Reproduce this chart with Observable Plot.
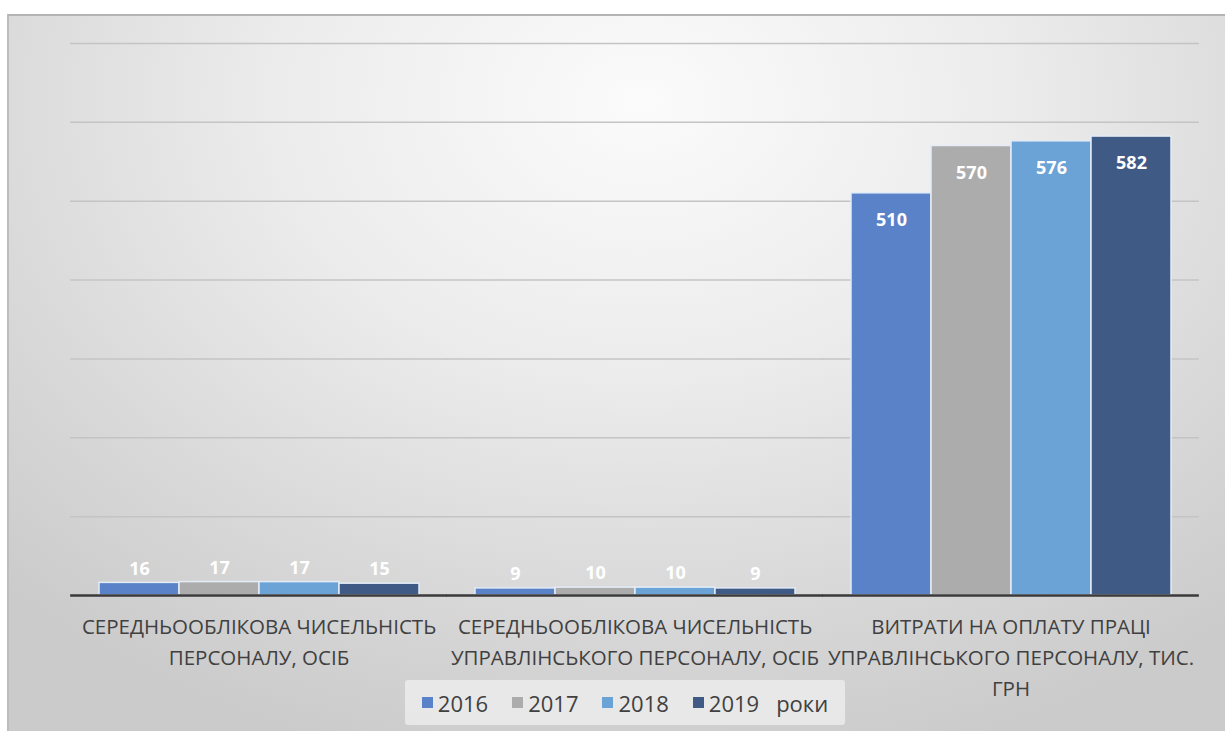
<!DOCTYPE html>
<html>
<head>
<meta charset="utf-8">
<script src="https://cdn.jsdelivr.net/npm/d3@7"></script>
<script src="https://cdn.jsdelivr.net/npm/@observablehq/plot@0.6"></script>
<style>
  html, body { margin: 0; padding: 0; background: #fff; }
  #page { position: relative; width: 1225px; height: 731px; overflow: hidden; font-family: "Open Sans", sans-serif; }
  #box { position: absolute; left: 7px; top: 14px; width: 1218px; height: 717px;
    border-top: 2px solid #b4b4b4; border-left: 2px solid #bdbdbd; box-sizing: border-box;
    background: radial-gradient(ellipse 75% 95% at 52% 12%, #fbfbfb 0%, #ececec 40%, #d8d8d8 75%, #cbcbcb 100%); }
  #chart { position: absolute; left: 0; top: 0; }
  #legend { position: absolute; left: 396px; top: 664px; width: 440px; height: 45px;
    display: flex; align-items: center; justify-content: center; gap: 24px;
    background: rgba(238,238,238,0.8); border-radius: 3px; color: #404040; font-size: 22px; }
  .item { display: flex; align-items: center; gap: 5px; }
  .sw { width: 11px; height: 11px; display: inline-block; }
</style>
</head>
<body>
<div id="page"><div id="box"><div id="chart"></div><div id="legend"></div></div></div>
<script>
const categories = [
  "СЕРЕДНЬООБЛІКОВА ЧИСЕЛЬНІСТЬ\nПЕРСОНАЛУ, ОСІБ",
  "СЕРЕДНЬООБЛІКОВА ЧИСЕЛЬНІСТЬ\nУПРАВЛІНСЬКОГО ПЕРСОНАЛУ, ОСІБ",
  "ВИТРАТИ НА ОПЛАТУ ПРАЦІ\nУПРАВЛІНСЬКОГО ПЕРСОНАЛУ, ТИС.\nГРН"
];
const years = ["2016", "2017", "2018", "2019"];
const values2016 = [16, 9, 510];
const values2017 = [17, 10, 570];
const values2018 = [17, 10, 576];
const values2019 = [15, 9, 582];
const colors = ["#5a82c8", "#acacac", "#6ba3d6", "#405a86"];
const legendSuffix = "роки";
const gridTicks = [100, 200, 300, 400, 500, 600, 700];

const series = [values2016, values2017, values2018, values2019];
const data = [];
categories.forEach((c, i) => years.forEach((y, j) => data.push({category: c, year: y, value: series[j][i]})));

// half of the gap between facet groups, so per-facet rules join into one line
const plotW = 1216 - 61 - 25;
const halfGap = (plotW / 3) * 0.07;

const chart = Plot.plot({
  width: 1216,
  height: 715,
  marginLeft: 61,
  marginRight: 25,
  marginTop: 27,
  marginBottom: 136,
  style: {background: "transparent", fontFamily: "Open Sans, sans-serif"},
  fx: {domain: categories, paddingInner: 0.14, paddingOuter: 0.07, label: null, axis: null},
  x: {domain: years, padding: 0, axis: null},
  y: {domain: [0, 700], axis: null},
  color: {domain: years, range: colors},
  marks: [
    Plot.ruleY(gridTicks, {stroke: "#c4c4c4", strokeWidth: 1.5, insetLeft: -halfGap - 0.5, insetRight: -halfGap - 0.5}),
    Plot.barY(data, {fx: "category", x: "year", y: "value", fill: "year", stroke: "#e4ecf7", strokeWidth: 1.5}),
    Plot.text(data.filter(d => d.value >= 100), {fx: "category", x: "year", y: "value", text: d => String(d.value),
      dy: 27, fill: "white", fontWeight: "bold", fontSize: 18}),
    Plot.text(data.filter(d => d.value < 100), {fx: "category", x: "year", y: "value", text: d => String(d.value),
      dy: -14, fill: "white", fontWeight: "bold", fontSize: 18}),
    Plot.ruleY([0], {stroke: "#3a3a3a", strokeWidth: 2.5, insetLeft: -halfGap - 0.5, insetRight: -halfGap - 0.5}),
    Plot.axisFx({anchor: "bottom", tickSize: 0, tickPadding: 17, fontSize: 20.5, lineHeight: 1.51, fill: "#404040", label: null, textAnchor: "middle"})
  ]
});
document.getElementById("chart").appendChild(chart);

const legend = document.getElementById("legend");
years.forEach((y, i) => {
  const it = document.createElement("span");
  it.className = "item";
  const sw = document.createElement("span");
  sw.className = "sw";
  sw.style.background = colors[i];
  it.appendChild(sw);
  it.appendChild(document.createTextNode(y));
  legend.appendChild(it);
});
const suf = document.createElement("span");
suf.textContent = legendSuffix;
suf.style.marginLeft = "-7px";
legend.appendChild(suf);
</script>
</body>
</html>
